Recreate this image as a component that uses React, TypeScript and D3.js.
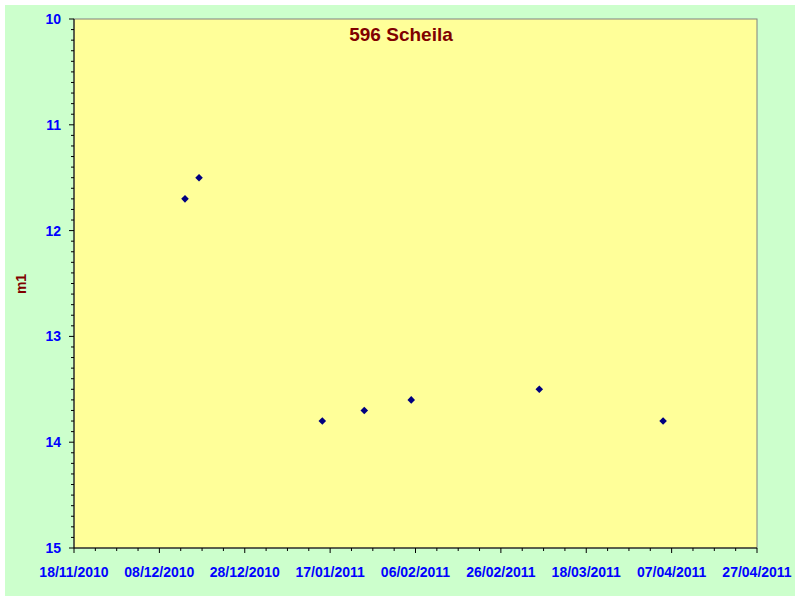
import React from "react";
import * as d3 from "d3";

const dates: string[] = [
  "2010-12-14T00:00",
  "2010-12-17T07:00",
  "2011-01-15T04:00",
  "2011-01-25T00:00",
  "2011-02-05T00:00",
  "2011-03-07T00:00",
  "2011-04-05T00:00",
];
const magnitudes: number[] = [11.7, 11.5, 13.8, 13.7, 13.6, 13.5, 13.8];
const yTicks: number[] = [10, 11, 12, 13, 14, 15];
const xStart = "2010-11-18T00:00";
const xEnd = "2011-04-27T00:00";
const title = "596 Scheila";
const yLabel = "m1";

const parse = d3.utcParse("%Y-%m-%dT%H:%M");
const fmt = d3.utcFormat("%d/%m/%Y");

export default function App() {
  const W = 800;
  const H = 600;
  const left = 74;
  const right = 757;
  const top = 19;
  const bottom = 548;

  const t0 = parse(xStart)!;
  const t1 = parse(xEnd)!;
  const x = d3.scaleUtc().domain([t0, t1]).range([left, right]);
  const y = d3.scaleLinear().domain([10, 15]).range([top, bottom]);

  const allDays = d3.utcDay.range(t0, d3.utcDay.offset(t1, 1));
  const majorX = allDays.filter((_, i) => i % 20 === 0);
  const minorX = allDays.filter((_, i) => i % 5 === 0 && i % 20 !== 0);
  const minorY = d3.range(100, 150).filter((v) => v % 10 !== 0).map((v) => v / 10);

  const font = "'Liberation Sans', Arial, sans-serif";

  return (
    <svg
      width={W}
      height={H}
      style={{ position: "absolute", left: 0, top: 0, display: "block" }}
    >
      <rect x={0} y={0} width={W} height={H} fill="#ffffff" />
      <rect x={5} y={5} width={790} height={591} fill="#CCFFCC" />
      <rect x={left} y={top} width={right - left} height={bottom - top} fill="#FFFF99" stroke="#808080" strokeWidth={1} />
      <line x1={left} x2={left} y1={top} y2={bottom} stroke="#000" />
      <line x1={left} x2={right} y1={bottom} y2={bottom} stroke="#000" />
      {yTicks.map((v) => (
        <g key={"yt" + v}>
          <line x1={left - 5} x2={left} y1={y(v)} y2={y(v)} stroke="#000" />
          <text
            x={61}
            y={y(v)}
            dy="0.36em"
            textAnchor="end"
            fontFamily={font}
            fontWeight="bold"
            fontSize={14}
            fill="#0000FF"
          >
            {v}
          </text>
        </g>
      ))}
      {minorY.map((v) => (
        <line key={"ym" + v} x1={left - 3} x2={left} y1={y(v)} y2={y(v)} stroke="#000" />
      ))}
      {majorX.map((d) => (
        <g key={"xt" + d.getTime()}>
          <line x1={x(d)} x2={x(d)} y1={bottom} y2={bottom + 5} stroke="#000" />
          <text
            x={x(d)}
            y={577}
            textAnchor="middle"
            fontFamily={font}
            fontWeight="bold"
            fontSize={14}
            fill="#0000FF"
          >
            {fmt(d)}
          </text>
        </g>
      ))}
      {minorX.map((d) => (
        <line key={"xm" + d.getTime()} x1={x(d)} x2={x(d)} y1={bottom} y2={bottom + 3} stroke="#000" />
      ))}
      <text
        x={401}
        y={41}
        textAnchor="middle"
        fontFamily={font}
        fontWeight="bold"
        fontSize={19}
        fill="#800000"
      >
        {title}
      </text>
      <text
        transform={`translate(26,284) rotate(-90)`}
        textAnchor="middle"
        fontFamily={font}
        fontWeight="bold"
        fontSize={14}
        fill="#800000"
      >
        {yLabel}
      </text>
      {dates.map((d, i) => {
        const cx = x(parse(d)!);
        const cy = y(magnitudes[i]);
        const s = 3.8;
        return (
          <path
            key={"p" + i}
            d={`M${cx},${cy - s}L${cx + s},${cy}L${cx},${cy + s}L${cx - s},${cy}Z`}
            fill="#000080"
          />
        );
      })}
    </svg>
  );
}
